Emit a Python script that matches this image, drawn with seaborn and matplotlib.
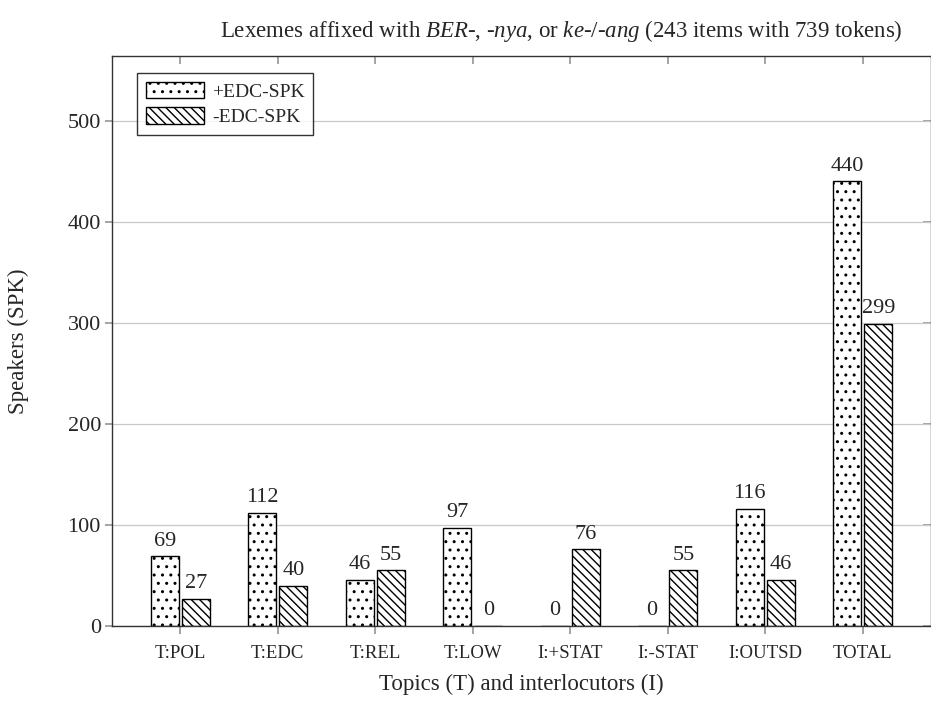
import pandas as pd
import seaborn as sns
from matplotlib import pyplot as plt
from matplotlib.patches import Patch

categories = ['T:POL', 'T:EDC', 'T:REL', 'T:LOW', 'I:+STAT', 'I:-STAT', 'I:OUTSD', 'TOTAL']
plus_edc = [69, 112, 46, 97, 0, 0, 116, 440]
minus_edc = [27, 40, 55, 0, 76, 55, 46, 299]
series_names = ['+EDC-SPK', '-EDC-SPK']
y_ticks = [0, 100, 200, 300, 400, 500]

df = pd.DataFrame({
    'category': categories * 2,
    'speakers': plus_edc + minus_edc,
    'group': [series_names[0]] * len(categories) + [series_names[1]] * len(categories),
})

sns.set_theme(style='white')
plt.rcParams['font.family'] = ['Liberation Serif', 'DejaVu Serif']
plt.rcParams['mathtext.fontset'] = 'custom'
plt.rcParams['mathtext.rm'] = 'Liberation Serif'
plt.rcParams['mathtext.it'] = 'Liberation Serif:italic'
plt.rcParams['hatch.linewidth'] = 1.0

fig = plt.figure(figsize=(9.31, 7.03), dpi=100)
ax = fig.add_axes([112 / 931, 77 / 703, 819 / 931, 570 / 703])

sns.barplot(data=df, x='category', y='speakers', hue='group', order=categories,
            hue_order=series_names, width=0.64, gap=0.1, legend=False, ax=ax)

hatches = ['..', '\\\\\\\\']
for cont, h in zip(ax.containers, hatches):
    for p in cont:
        p.set_facecolor('white')
        p.set_edgecolor('black')
        p.set_linewidth(1.0)
        p.set_hatch(h)
    ax.bar_label(cont, padding=4, fontsize=16)

ax.set_xlim(-0.7, 7.7)
ax.set_ylim(0, 564)
ax.set_yticks(y_ticks)
ax.yaxis.grid(True, color='#c8c8c8', linewidth=0.9)
ax.set_axisbelow(True)

for s in ax.spines.values():
    s.set_color('#333333')
    s.set_linewidth(1.0)

# bottom/left ticks point out, mirrored top/right ticks point in
ax.tick_params(axis='x', which='both', bottom=True, top=False, direction='out',
               length=6, color='#999999', labelsize=13.5, pad=8)
ax.tick_params(axis='y', which='both', left=True, right=False, direction='out',
               length=5, color='#999999', labelsize=16, pad=3)
top = ax.secondary_xaxis('top')
top.set_xticks(range(len(categories)))
top.set_xticklabels([])
top.tick_params(direction='in', length=6, color='#999999')
top.spines['top'].set_visible(False)
right = ax.secondary_yaxis('right')
right.set_yticks(y_ticks)
right.set_yticklabels([])
right.tick_params(direction='in', length=6, color='#999999')
right.spines['right'].set_visible(False)

ax.set_xlabel('Topics (T) and interlocutors (I)', fontsize=16.5, labelpad=8)
ax.set_ylabel('Speakers (SPK)', fontsize=16.5, labelpad=28)
ax.set_title(r'Lexemes affixed with $\mathit{BER}$-, -$\mathit{nya}$, or $\mathit{ke}$-/-$\mathit{ang}$ (243 items with 739 tokens)',
             fontsize=16.5, pad=14, x=0.549)

handles = [Patch(facecolor='white', edgecolor='black', hatch=h, label=n)
           for h, n in zip(hatches, series_names)]
leg = ax.legend(handles=handles, loc='upper left', bbox_to_anchor=(0.0305, 0.97),
                borderaxespad=0, fontsize=14, frameon=True, fancybox=False,
                handlelength=3.0, handleheight=0.9, handletextpad=0.4,
                borderpad=0.45, labelspacing=0.35)
leg.get_frame().set_edgecolor('black')
leg.get_frame().set_linewidth(1.0)

plt.savefig('out.png', dpi=100)
